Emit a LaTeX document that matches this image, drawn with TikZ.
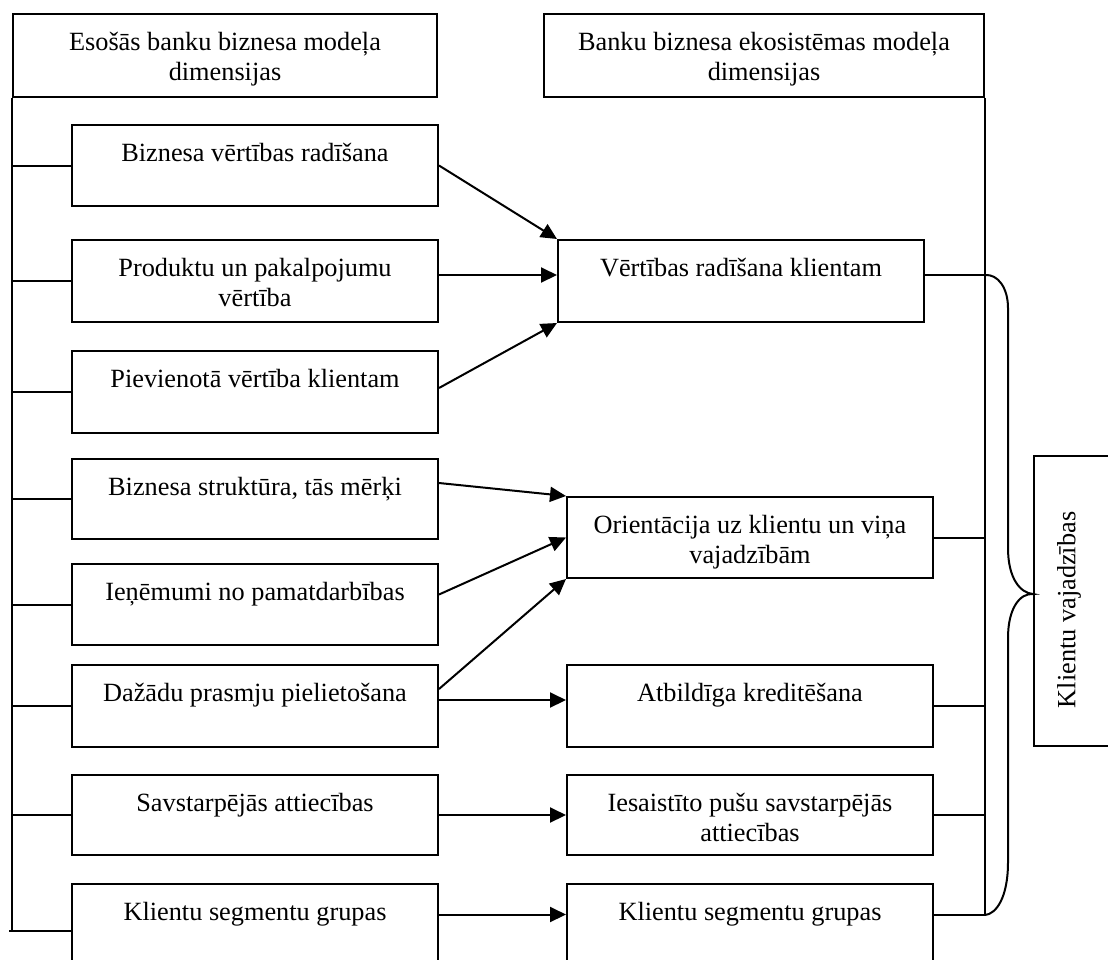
\documentclass[tikz,border=0pt]{standalone}
\usepackage{fontspec}
\setmainfont{Liberation Serif}
\usetikzlibrary{arrows.meta}

% box text: fixed-size parbox, text hanging from the top
\newcommand{\bxt}[3]{\parbox[t][#2][t]{#1}{\centering\rule{0pt}{36pt}#3}}

\begin{document}
\begin{tikzpicture}[x=1pt,y=-1pt,
  font=\fontsize{26.3}{30.2}\selectfont,
  box/.style={draw, line width=2pt, inner sep=0pt, anchor=north west},
  wire/.style={line width=2pt},
  arr/.style={line width=2pt, -{Triangle[length=16pt,width=15pt]}}]
\useasboundingbox (0,0) rectangle (1108,959);
\clip (0,0) rectangle (1108,959);

% column headers
\node[box] (LH) at (12,13) {\bxt{424pt}{83pt}{Esošās banku biznesa modeļa\\dimensijas}};
\node[box] (RH) at (543,13) {\bxt{440pt}{83pt}{Banku biznesa ekosistēmas modeļa\\dimensijas}};

% left column
\node[box] (L1) at (71,124) {\bxt{366pt}{81pt}{Biznesa vērtības radīšana}};
\node[box] (L2) at (71,239) {\bxt{366pt}{82pt}{Produktu un pakalpojumu\\vērtība}};
\node[box] (L3) at (71,350) {\bxt{366pt}{82pt}{Pievienotā vērtība klientam}};
\node[box] (L4) at (71,458) {\bxt{366pt}{80pt}{Biznesa struktūra, tās mērķi}};
\node[box] (L5) at (71,563) {\bxt{366pt}{81pt}{Ieņēmumi no pamatdarbības}};
\node[box] (L6) at (71,664) {\bxt{366pt}{82pt}{Dažādu prasmju pielietošana}};
\node[box] (L7) at (71,774) {\bxt{366pt}{80pt}{Savstarpējās attiecības}};
\node[box] (L8) at (71,883) {\bxt{366pt}{81pt}{Klientu segmentu grupas}};

% right column
\node[box] (R1) at (557,239) {\bxt{366pt}{82pt}{Vērtības radīšana klientam}};
\node[box] (R2) at (566,496) {\bxt{366pt}{81pt}{Orientācija uz klientu un viņa\\vajadzībām}};
\node[box] (R3) at (566,664) {\bxt{366pt}{82pt}{Atbildīga kreditēšana}};
\node[box] (R4) at (566,774) {\bxt{366pt}{80pt}{Iesaistīto pušu savstarpējās\\attiecības}};
\node[box] (R5) at (566,883) {\bxt{366pt}{81pt}{Klientu segmentu grupas}};

% summary box with vertical text
\node[box, minimum width=79pt, minimum height=290pt] (K) at (1033,455) {};
\node[rotate=90, inner sep=0pt] (Ktxt) at (1069,610) {Klientu vajadzības};

% left spine and its branches
\coordinate (c8) at ([yshift=-6.5pt]L8.west);
\coordinate (lb) at (LH.west |- c8);
\draw[wire] (LH.south west) -- (lb);
\foreach \b in {L1,L2,L3,L4,L5,L6,L7}
  \draw[wire] (LH.west |- \b.west) -- (\b.west);
\draw[wire] ([xshift=-3pt]lb) -- (c8);

% arrows between the columns
\coordinate (a2) at ([yshift=6pt]L2.east);
\coordinate (a3) at ([yshift=4pt]L3.east);
\coordinate (a4) at ([yshift=16pt]L4.east);
\coordinate (a5) at ([yshift=10pt]L5.east);
\coordinate (a6) at ([yshift=17pt]L6.east);
\coordinate (b6) at ([yshift=6pt]L6.east);
\coordinate (a8) at ([yshift=10pt]L8.east);
\draw[arr] (L1.east) -- (R1.north west);
\draw[arr] (a2) -- (a2 -| R1.west);
\draw[arr] (a3) -- (R1.south west);
\draw[arr] (a4) -- (R2.north west);
\draw[arr] (a5) -- (R2.west);
\draw[arr] (a6) -- (R2.south west);
\draw[arr] (b6) -- (b6 -| R3.west);
\draw[arr] (L7.east) -- (L7.east -| R4.west);
\draw[arr] (a8) -- (a8 -| R5.west);

% right spine and its branches
\coordinate (r1) at ([yshift=6pt]R1.east);
\coordinate (r5) at ([yshift=9.5pt]R5.east);
\coordinate (rt) at (r1 -| RH.east);
\coordinate (rb) at (r5 -| RH.east);
\draw[wire] (RH.south east) -- (rb);
\draw[wire] (r1) -- (rt);
\draw[wire] (R2.east) -- (R2.east -| RH.east);
\draw[wire] (R3.east) -- (R3.east -| RH.east);
\draw[wire] (R4.east) -- (R4.east -| RH.east);
\draw[wire] (r5) -- (rb);

% curly brace gathering the right column
\coordinate (tip) at ([yshift=7pt]K.west);
\draw[wire] (rt) .. controls (998,274) and (1008,288) .. (1008,308)
  -- (1008,548) .. controls (1008,578) and (1020,593) .. (tip)
  .. controls (1020,593) and (1008,608) .. (1008,638)
  -- (1008,862) .. controls (1008,898) and (996,914) .. (rb);
\end{tikzpicture}
\end{document}
